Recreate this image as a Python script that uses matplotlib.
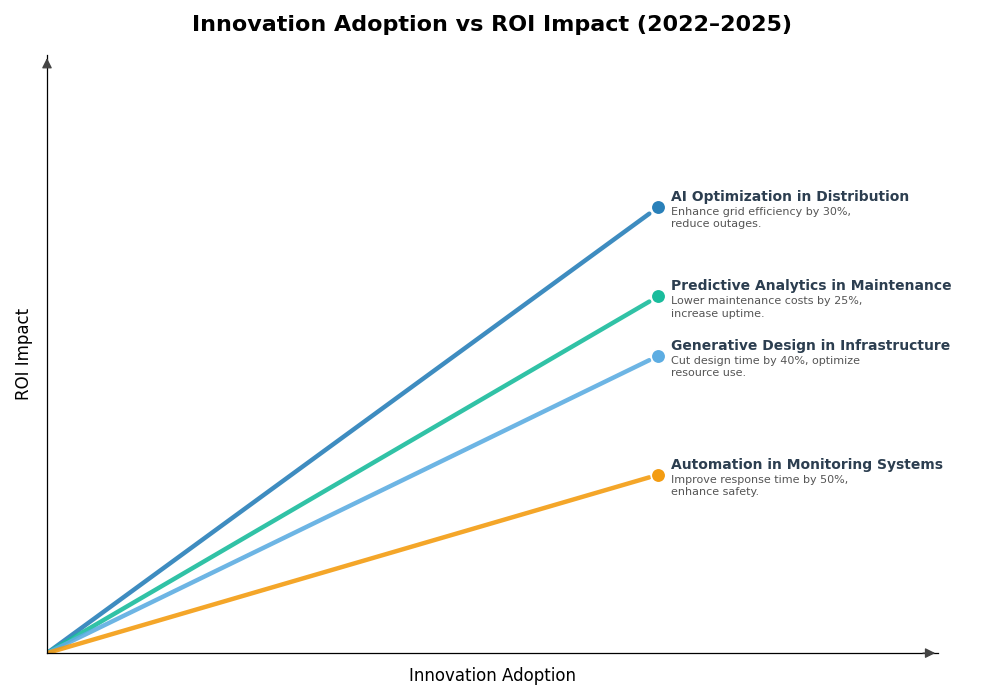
import matplotlib.pyplot as plt

# Innovation adoption vs ROI impact
names = ['AI Optimization in Distribution',
         'Predictive Analytics in Maintenance',
         'Generative Design in Infrastructure',
         'Automation in Monitoring Systems']
notes = ['Enhance grid efficiency by 30%,\nreduce outages.',
         'Lower maintenance costs by 25%,\nincrease uptime.',
         'Cut design time by 40%, optimize\nresource use.',
         'Improve response time by 50%,\nenhance safety.']
adoption = [70, 70, 70, 70]
roi = [75, 60, 50, 30]
colors = ['#2980b9', '#1abc9c', '#5dade2', '#f39c12']

fig = plt.figure(figsize=(10, 7), dpi=100)
ax = fig.add_axes([0.047, 0.067, 0.891, 0.854])

for name, note, x, y, c in zip(names, notes, adoption, roi, colors):
    ax.plot([0, x * 0.985], [0, y * 0.985], color=c, lw=3.2, alpha=0.9, solid_capstyle='round')
    ax.scatter([x], [y], s=110, color=c, edgecolor='white', linewidth=1.2, zorder=5)
    ax.annotate(name, (x, y), xytext=(9, 7), textcoords='offset points',
                fontsize=10, fontweight='bold', color='#2c3e50', va='center')
    ax.annotate(note, (x, y), xytext=(9, 0), textcoords='offset points',
                fontsize=8, color='#555555', va='top', linespacing=1.3)

ax.set_xlim(0, 102)
ax.set_ylim(0, 100.5)
ax.set_xticks([])
ax.set_yticks([])
ax.spines['top'].set_visible(False)
ax.spines['right'].set_visible(False)
ax.spines['left'].set_linewidth(0.9)
ax.spines['bottom'].set_linewidth(0.9)

# arrow heads on the axes
ax.annotate('', xy=(1.0, 0), xytext=(0.98, 0), xycoords='axes fraction',
            arrowprops=dict(arrowstyle='-|>', color='#444444', lw=0.9, mutation_scale=15))
ax.annotate('', xy=(0, 1.0), xytext=(0, 0.98), xycoords='axes fraction',
            arrowprops=dict(arrowstyle='-|>', color='#444444', lw=0.9, mutation_scale=15))

ax.set_xlabel('Innovation Adoption', fontsize=12, labelpad=10)
ax.set_ylabel('ROI Impact', fontsize=12, labelpad=10)
ax.set_title('Innovation Adoption vs ROI Impact (2022–2025)', fontsize=16,
             fontweight='bold', pad=17.5)

fig.savefig('out.png', dpi=100)
